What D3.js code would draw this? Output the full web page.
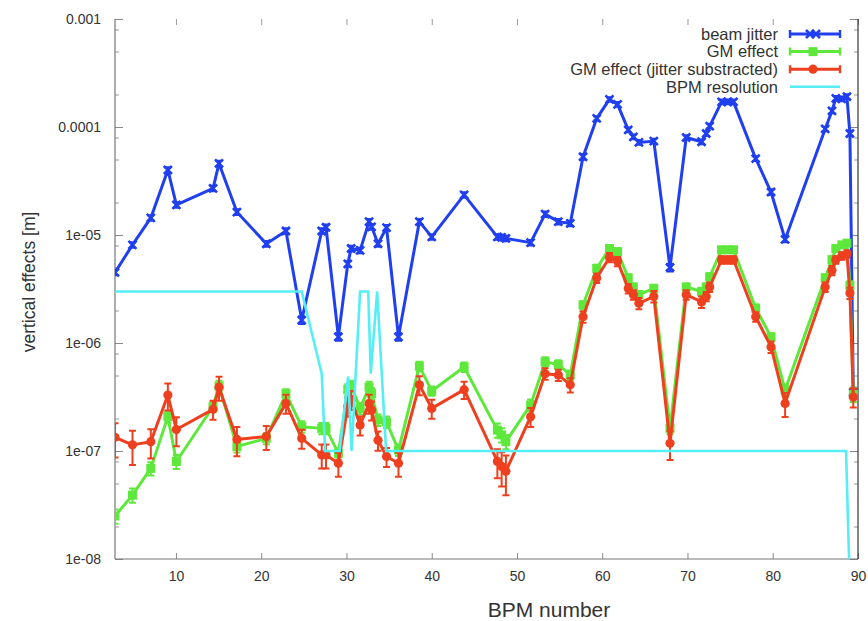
<!DOCTYPE html>
<html>
  <head>
    <meta charset="utf-8">
    <title>Vertical effects per BPM</title>
    <script src="https://d3js.org/d3.v7.min.js"></script>
    <style>
      body { margin: 0; background: #fff; }
      svg text { font-family: "Liberation Sans", Arial, Helvetica, sans-serif; fill: #333; }
    </style>
  </head>
  <body>
    <svg id="chart" width="868" height="621"></svg>
    <script>
      // BPM positions (shared by all measured series)
      bpm = [2.85, 4.9, 7.05, 9.05, 10.05, 14.35, 15.05, 17.15, 20.6, 22.9,
        24.75, 27.1, 27.6, 29.05, 30.15, 30.55, 31.6, 32.65, 32.95, 33.7,
        34.7, 36.1, 38.55, 40.0, 43.8, 47.7, 48.2, 48.7, 51.6, 53.3,
        54.85, 56.25, 57.75, 59.35, 60.85, 61.8, 63.05, 63.65, 64.3, 66.05,
        67.95, 69.85, 71.65, 72.2, 72.6, 74.0, 74.75, 75.4, 78.0, 79.8,
        81.45, 86.15, 86.95, 87.4, 88.1, 88.7, 89.05, 89.45];
      beamJitter = [4.5e-6, 8.1e-6, 1.44e-5, 4.0e-5, 1.9e-5, 2.7e-5, 4.6e-5, 1.63e-5, 8.3e-6, 1.09e-5,
        1.63e-6, 1.09e-5, 1.18e-5, 1.14e-6, 5.4e-6, 7.5e-6, 7.2e-6, 1.33e-5, 1.19e-5, 8.3e-6,
        1.17e-5, 1.14e-6, 1.33e-5, 9.6e-6, 2.35e-5, 9.6e-6, 9.5e-6, 9.3e-6, 8.5e-6, 1.56e-5,
        1.33e-5, 1.28e-5, 5.3e-5, 1.2e-4, 1.8e-4, 1.62e-4, 9.4e-5, 8.1e-5, 7.2e-5, 7.4e-5,
        5.0e-6, 8.0e-5, 7.3e-5, 8.7e-5, 1.02e-4, 1.71e-4, 1.71e-4, 1.71e-4, 5.1e-5, 2.5e-5,
        9.1e-6, 9.6e-5, 1.41e-4, 1.84e-4, 1.82e-4, 1.91e-4, 8.7e-5, 3.5e-7];
      gmEffect = [2.5e-8, 3.9e-8, 6.9e-8, 2.08e-7, 8.0e-8, 2.57e-7, 4.0e-7, 1.1e-7, 1.31e-7, 3.4e-7,
        1.68e-7, 1.62e-7, 1.62e-7, 9.5e-8, 3.7e-7, 4.0e-7, 2.48e-7, 3.9e-7, 3.4e-7, 1.94e-7,
        1.86e-7, 1.02e-7, 6.1e-7, 3.6e-7, 6.0e-7, 1.56e-7, 1.41e-7, 1.22e-7, 2.67e-7, 6.7e-7,
        6.3e-7, 5.06e-7, 2.25e-6, 4.9e-6, 7.5e-6, 7.0e-6, 4.0e-6, 3.3e-6, 2.8e-6, 3.2e-6,
        1.62e-7, 3.3e-6, 3.0e-6, 3.3e-6, 4.1e-6, 7.3e-6, 7.3e-6, 7.3e-6, 2.1e-6, 1.14e-6,
        3.67e-7, 4.0e-6, 5.9e-6, 7.5e-6, 8.1e-6, 8.4e-6, 3.4e-6, 3.35e-7];
      gmSub = [1.34e-7, 1.14e-7, 1.22e-7, 3.3e-7, 1.58e-7, 2.43e-7, 3.9e-7, 1.28e-7, 1.36e-7, 2.76e-7,
        1.31e-7, 9.2e-8, 9.2e-8, 7.7e-8, 2.6e-7, 3.0e-7, 1.74e-7, 2.76e-7, 2.4e-7, 1.26e-7,
        8.9e-8, 7.7e-8, 4.1e-7, 2.48e-7, 3.7e-7, 8.0e-8, 7.2e-8, 6.5e-8, 2.08e-7, 5.2e-7,
        5.06e-7, 4.1e-7, 1.75e-6, 4.0e-6, 6.2e-6, 5.7e-6, 3.2e-6, 2.8e-6, 2.33e-6, 2.7e-6,
        1.18e-7, 2.8e-6, 2.4e-6, 2.7e-6, 3.3e-6, 5.9e-6, 5.9e-6, 5.9e-6, 1.75e-6, 9.2e-7,
        2.76e-7, 3.3e-6, 4.7e-6, 5.9e-6, 6.4e-6, 6.7e-6, 2.9e-6, 3.16e-7];
      // relative error bar half-widths
      jitterErr = [.06, .06, .06, .06, .06, .06, .06, .06, .06, .06,
        .08, .06, .06, .08, .06, .06, .06, .06, .06, .06,
        .06, .08, .06, .06, .06, .06, .06, .06, .06, .06,
        .06, .06, .06, .05, .05, .05, .05, .05, .05, .05,
        .08, .05, .05, .05, .05, .05, .05, .05, .05, .06,
        .06, .05, .05, .05, .05, .05, .05, .1];
      gmErr = [.15, .15, .14, .12, .15, .1, .12, .12, .12, .1,
        .12, .12, .12, .12, .12, .12, .12, .12, .12, .12,
        .12, .12, .1, .1, .1, .15, .15, .15, .12, .1,
        .1, .1, .08, .08, .08, .08, .08, .08, .08, .08,
        .12, .08, .08, .08, .08, .06, .06, .06, .08, .08,
        .12, .08, .08, .06, .06, .06, .1, .15];
      subErr = [.35, .35, .3, .28, .3, .2, .25, .3, .25, .2,
        .2, .25, .25, .25, .2, .2, .2, .2, .2, .2,
        .2, .25, .2, .2, .18, .3, .35, .4, .2, .12,
        .12, .15, .12, .1, .1, .1, .1, .1, .12, .12,
        .3, .1, .12, .1, .1, .08, .08, .08, .1, .12,
        .25, .1, .1, .08, .08, .08, .12, .2];
      // BPM resolution (step profile)
      resBpm = [2.85, 22.9, 24.75, 27.1, 27.5, 29.2, 30.2, 30.6, 31.6, 32.55, 32.85, 33.6, 34.65, 88.6, 89.3];
      resValue = [3e-6, 3e-6, 3e-6, 5.2e-7, 1e-7, 1e-7, 4.9e-7, 1e-7, 3e-6, 3e-6, 5.2e-7, 3e-6, 1e-7, 1e-7, 1e-9];
      xTicks = [10, 20, 30, 40, 50, 60, 70, 80, 90];
      yTicks = [1e-8, 1e-7, 1e-6, 1e-5, 1e-4, 1e-3];
      yTickLabels = ["1e-08", "1e-07", "1e-06", "1e-05", "0.0001", "0.001"];
      yMinor = [2e-8, 5e-8, 8e-8, 2e-7, 5e-7, 8e-7, 2e-6, 5e-6, 8e-6, 2e-5, 5e-5, 8e-5, 2e-4, 5e-4, 8e-4];

      margin = { top: 19, right: 10, bottom: 62, left: 115 };
      width = 868;
      height = 621;
      svg = d3.select("#chart");
      x = d3.scaleLinear().domain([2.85, 90]).range([margin.left, width - margin.right]);
      y = d3.scaleLog().domain([1e-8, 1e-3]).range([height - margin.bottom, margin.top]);
      x0 = x.range()[0]; x1 = x.range()[1];
      y0 = y.range()[0]; y1 = y.range()[1];

      svg.append("defs").append("clipPath").attr("id", "plotClip")
        .append("rect").attr("x", x0).attr("y", y1).attr("width", x1 - x0).attr("height", y0 - y1);

      // axes
      function styleAxis(g, colour) {
        g.select(".domain").remove();
        g.selectAll(".tick line").attr("stroke", colour);
        g.selectAll(".tick text").style("font-size", "14px").attr("fill", "#333");
      }
      svg.append("g").attr("transform", "translate(0," + y0 + ")")
        .call(d3.axisBottom(x).tickValues(xTicks).tickSize(-6).tickPadding(12).tickFormat(d3.format("d")))
        .call(styleAxis, "#888");
      svg.append("g").attr("transform", "translate(0," + y1 + ")")
        .call(d3.axisTop(x).tickValues(xTicks).tickSize(-6).tickFormat(""))
        .call(styleAxis, "#999");
      svg.append("g").attr("transform", "translate(" + x0 + ",0)")
        .call(d3.axisLeft(y).tickValues(yTicks).tickSize(-8).tickPadding(14)
          .tickFormat(function(d, i) { return yTickLabels[i]; }))
        .call(styleAxis, "#888");
      svg.append("g").attr("transform", "translate(" + x0 + ",0)")
        .call(d3.axisLeft(y).tickValues(yMinor).tickSize(-4).tickFormat(""))
        .call(styleAxis, "#999");
      svg.append("g").attr("transform", "translate(" + x1 + ",0)")
        .call(d3.axisRight(y).tickValues(yTicks).tickSize(-8).tickFormat(""))
        .call(styleAxis, "#888");
      svg.append("g").attr("transform", "translate(" + x1 + ",0)")
        .call(d3.axisRight(y).tickValues(yMinor).tickSize(-4).tickFormat(""))
        .call(styleAxis, "#999");
      svg.append("line").attr("x1", x0).attr("x2", x0).attr("y1", y1).attr("y2", y0)
        .attr("stroke", "#777").attr("stroke-width", 1.2);
      svg.append("line").attr("x1", x0).attr("x2", x1).attr("y1", y0).attr("y2", y0)
        .attr("stroke", "#777").attr("stroke-width", 1.2);
      svg.append("line").attr("x1", x1).attr("x2", x1).attr("y1", y1).attr("y2", y0)
        .attr("stroke", "#333").attr("stroke-width", 1.2);

      svg.append("text").attr("x", 549).attr("y", 617)
        .attr("text-anchor", "middle").style("font-size", "21px").attr("fill", "#111")
        .text("BPM number");
      svg.append("text").attr("transform", "translate(35,282) rotate(-90)")
        .attr("text-anchor", "middle").style("font-size", "17.5px").attr("fill", "#333")
        .text("vertical effects [m]");

      // series
      series = [
        { name: "beam jitter", values: beamJitter, err: jitterErr, colour: "#1f3ff0", marker: "cross" },
        { name: "GM effect", values: gmEffect, err: gmErr, colour: "#5ee83c", marker: "square" },
        { name: "GM effect (jitter substracted)", values: gmSub, err: subErr, colour: "#ee3f1f", marker: "circle" }
      ];
      plot = svg.append("g").attr("clip-path", "url(#plotClip)");
      line = d3.line().x(function(d) { return x(d.x); }).y(function(d) { return y(d.v); });

      function drawMarker(g, kind, colour) {
        if (kind === "cross") {
          g.append("path").attr("d", "M-4,-4L4,4M-4,4L4,-4")
            .attr("stroke", colour).attr("stroke-width", 2.6).attr("fill", "none");
        } else if (kind === "square") {
          g.append("rect").attr("x", -4.5).attr("y", -4.5).attr("width", 9).attr("height", 9)
            .attr("fill", colour);
        } else {
          g.append("circle").attr("r", 4.6).attr("fill", colour);
        }
      }

      series.forEach(function(s) {
        pts = bpm.map(function(b, i) { return { x: b, v: s.values[i], e: s.err[i] }; });
        g = plot.append("g");
        g.append("path").datum(pts).attr("d", line)
          .attr("fill", "none").attr("stroke", s.colour).attr("stroke-width", 3)
          .attr("stroke-linejoin", "round");
        bars = g.selectAll(".bar").data(pts).join("g")
          .attr("transform", function(d) { return "translate(" + x(d.x) + ",0)"; });
        bars.append("path")
          .attr("d", function(d) {
            hi = y(d.v * (1 + d.e)); lo = y(d.v * (1 - d.e));
            return "M0," + hi + "V" + lo + "M-3.5," + hi + "H3.5M-3.5," + lo + "H3.5";
          })
          .attr("stroke", s.colour).attr("stroke-width", 2).attr("fill", "none");
        g.selectAll(".pt").data(pts).join("g")
          .attr("transform", function(d) { return "translate(" + x(d.x) + "," + y(d.v) + ")"; })
          .each(function() { drawMarker(d3.select(this), s.marker, s.colour); });
      });

      resPts = resBpm.map(function(b, i) { return { x: b, v: resValue[i] }; });
      plot.append("path").datum(resPts).attr("d", line)
        .attr("fill", "none").attr("stroke", "#55eef5").attr("stroke-width", 2.6);

      // legend
      legendRows = series.map(function(s) { return { name: s.name, colour: s.colour, marker: s.marker }; })
        .concat([{ name: "BPM resolution", colour: "#55eef5", marker: null }]);
      legend = svg.append("g");
      legendRows.forEach(function(r, i) {
        ly = 34 + i * 17.6;
        legend.append("text").attr("x", 778).attr("y", ly).attr("dy", "0.35em")
          .attr("text-anchor", "end").style("font-size", "16.5px").attr("fill", "#444").text(r.name);
        legend.append("line").attr("x1", 790).attr("x2", 840).attr("y1", ly).attr("y2", ly)
          .attr("stroke", r.colour).attr("stroke-width", r.marker ? 3 : 2.6);
        if (r.marker) {
          legend.append("path").attr("d", "M790," + (ly - 4) + "V" + (ly + 4) + "M840," + (ly - 4) + "V" + (ly + 4))
            .attr("stroke", r.colour).attr("stroke-width", 2.4);
          mg = legend.append("g").attr("transform", "translate(813," + ly + ")");
          if (r.marker === "cross") {
            drawMarker(mg.append("g").attr("transform", "translate(-3,0)"), r.marker, r.colour);
            drawMarker(mg.append("g").attr("transform", "translate(3,0)"), r.marker, r.colour);
          } else {
            drawMarker(mg, r.marker, r.colour);
          }
        }
      });
    </script>
  </body>
</html>
